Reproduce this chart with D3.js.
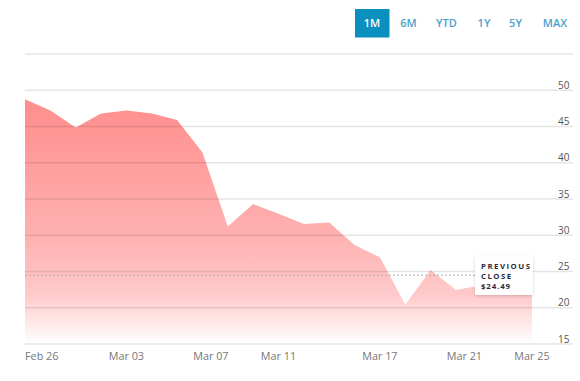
<!DOCTYPE html>
<html><head><meta charset="utf-8">
<script src="https://cdnjs.cloudflare.com/ajax/libs/d3/7.8.5/d3.min.js"></script>
<style>
body{margin:0;background:#fff;}
svg{display:block;font-family:"Open Sans",sans-serif;}
</style></head>
<body><svg id="c" width="580" height="381"></svg>
<script>
const dates = ["2020-02-26","2020-02-27","2020-02-28","2020-03-02","2020-03-03","2020-03-04","2020-03-05","2020-03-06","2020-03-09","2020-03-10","2020-03-11","2020-03-12","2020-03-13","2020-03-16","2020-03-17","2020-03-18","2020-03-19","2020-03-20","2020-03-23","2020-03-24","2020-03-25"];
const prices = [48.75,47.2,44.85,46.8,47.2,46.8,45.9,41.4,31.2,34.3,32.95,31.55,31.75,28.65,26.95,20.4,25.2,22.45,23.1,24.49,23.9];
const yTicks = [15,20,25,30,35,40,45,50];
const yGridTop = 55;
const xTickDates = ["2020-02-26","2020-03-03","2020-03-07","2020-03-11","2020-03-17","2020-03-21","2020-03-25"];
const previousClose = 24.49;
const ranges = ["1M","6M","YTD","1Y","5Y","MAX"];
const activeRange = "1M";

(function(){
const parse = d3.timeParse("%Y-%m-%d");
const dts = dates.map(parse);
const svg = d3.select("#c");

const L = 25, R = 532, T = 54, B = 344;
const idx = d3.scaleLinear().domain([0, dts.length - 1]).range([L, R]);
const x = d3.scaleTime().domain(dts).range(dts.map((d, i) => idx(i)));
const y = d3.scaleLinear().domain([15, 55]).range([B, T]);

const defs = svg.append("defs");
const grad = defs.append("linearGradient").attr("id","g").attr("x1",0).attr("x2",0).attr("y1",0).attr("y2",1);
grad.append("stop").attr("offset","0%").attr("stop-color","#ff8d8d");
grad.append("stop").attr("offset","55%").attr("stop-color","#ffb0b0");
grad.append("stop").attr("offset","80%").attr("stop-color","#ffcaca");
grad.append("stop").attr("offset","100%").attr("stop-color","#ffffff");
const shadow = defs.append("filter").attr("id","sh").attr("x","-20%").attr("y","-20%").attr("width","150%").attr("height","150%");
shadow.append("feDropShadow").attr("dx",0).attr("dy",1).attr("stdDeviation",1.5).attr("flood-color","#000").attr("flood-opacity",0.18);

const area = d3.area().x((d,i)=>x(dts[i])).y0(y(15)).y1(d=>y(d));
svg.append("path").datum(prices).attr("d",area).attr("fill","url(#g)");

const gridVals = yTicks.concat([yGridTop]);
svg.append("g").selectAll("line").data(gridVals).join("line")
  .attr("x1",L).attr("x2",573)
  .attr("y1",d=>y(d)).attr("y2",d=>y(d))
  .attr("stroke","rgba(0,0,0,0.1)").attr("stroke-width",1.3);

svg.append("g").selectAll("text").data(yTicks).join("text")
  .attr("x",558).attr("y",d=>y(d)-1.5)
  .attr("font-size",10).attr("fill","#555").text(d=>d);

svg.append("g").selectAll("text").data(xTickDates.map(parse)).join("text")
  .attr("x",d=>x(d)).attr("y",360)
  .attr("text-anchor",(d,i)=>i===0?"start":"middle")
  .attr("font-size",10.8).attr("fill","#777")
  .text(d=>d3.timeFormat("%b %d")(d));

const tipX = 475;
svg.append("line").attr("x1",L).attr("x2",tipX)
  .attr("y1",y(previousClose)).attr("y2",y(previousClose))
  .attr("stroke","#aaa").attr("stroke-width",1).attr("stroke-dasharray","2,2");

const tg = svg.append("g");
tg.append("rect").attr("x",tipX).attr("y",256.5).attr("width",58).attr("height",38.5)
  .attr("fill","#fff").attr("filter","url(#sh)");
const tl = ["PREVIOUS","CLOSE","$" + previousClose.toFixed(2)];
tg.selectAll("text").data(tl).join("text")
  .attr("x",481).attr("y",(d,i)=>268.5+i*10)
  .attr("font-size",7.8).attr("font-weight","bold").attr("fill","#2b2b3b")
  .attr("letter-spacing",(d,i)=>i<2?1.5:0.9)
  .text(d=>d);

const btnX = {"1M":372,"6M":408.5,"YTD":446.5,"1Y":484,"5Y":515.5,"MAX":555};
svg.append("rect").attr("x",355).attr("y",9).attr("width",34.5).attr("height",28.5).attr("fill","#0b8fbe");
svg.append("g").selectAll("text").data(ranges).join("text")
  .attr("x",d=>btnX[d]).attr("y",27)
  .attr("text-anchor","middle").attr("font-size",11).attr("font-weight",600)
  .attr("fill",d=>d===activeRange?"#fff":"#4d9fcb")
  .text(d=>d);
})();
</script></body></html>
